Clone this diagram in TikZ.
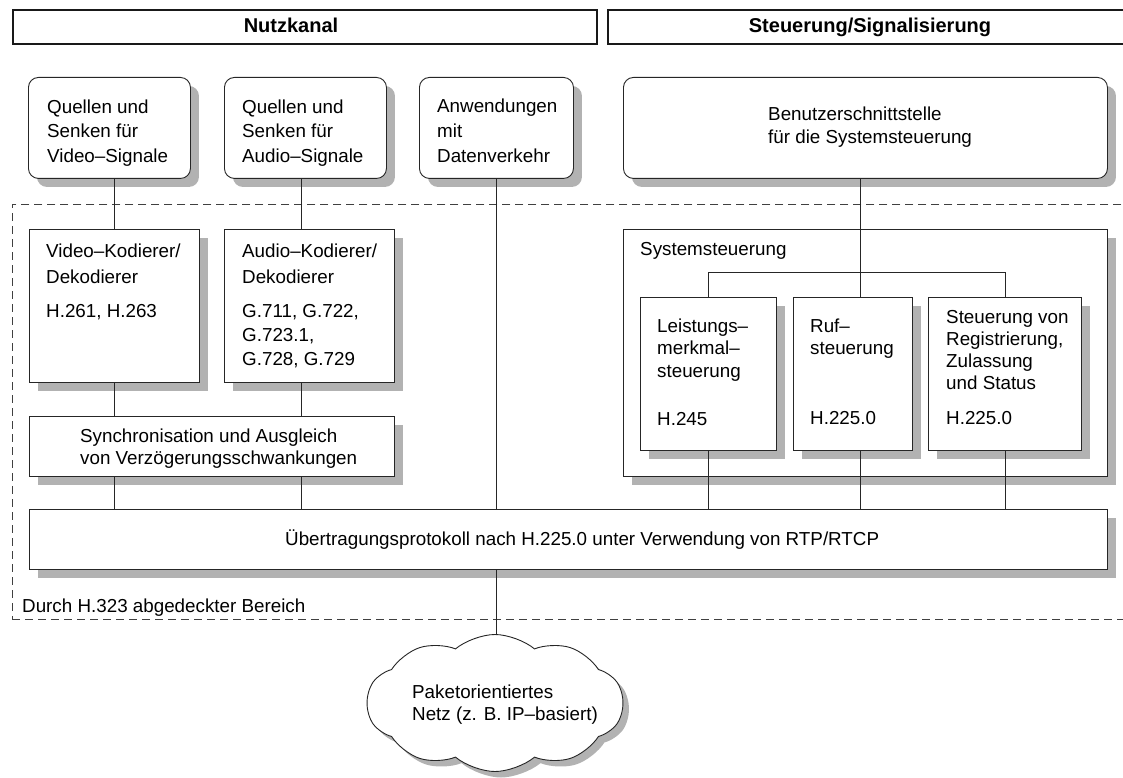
\documentclass[tikz,border=0pt]{standalone}
\usepackage{fontspec}
\setmainfont{Liberation Sans}
\usetikzlibrary{shadows,shapes.symbols}

\tikzset{
  box/.style={rectangle, draw=black!85, line width=0.9pt, fill=white, inner sep=0pt,
    anchor=north west,
    drop shadow={shadow xshift=8.5pt, shadow yshift=-8.5pt, fill=black!30, opacity=1}},
  rbox/.style={box, rounded corners=10pt},
  hdrbox/.style={rectangle, draw=black!90, line width=1.6pt, inner sep=0pt, anchor=north west},
  frame/.style={rectangle, draw=black!75, line width=0.8pt, dash pattern=on 8pt off 5pt,
    inner sep=0pt, anchor=north west},
  txt/.style={inner sep=0pt, align=left, anchor=north west,
    font=\fontsize{18.8}{22.5}\selectfont},
  htxt/.style={inner sep=0pt, anchor=base, font=\fontsize{20}{22}\selectfont\bfseries},
  wire/.style={draw=black!85, line width=0.8pt},
}

\begin{document}
\begin{tikzpicture}[x=1pt, y=-1pt]
\useasboundingbox (0,0) rectangle (1123,778);

% column headers
\node[hdrbox, minimum width=584, minimum height=34] (hl) at (12,9) {};
\node[hdrbox, minimum width=540, minimum height=34] (hr) at (607,9) {};
\node[htxt] (hlt) at (291,33) {Nutzkanal};
\node[htxt] (hrt) at (870,33) {Steuerung/Signalisierung};

% area covered by H.323
\node[frame, minimum width=1140, minimum height=415] (h323) at (12,204) {};
\node[txt, anchor=base west] (h323t) at (22,612.5) {Durch H.323 abgedeckter Bereich};

% terminals
\node[rbox, minimum width=162, minimum height=101] (q1) at (28,77) {};
\node[rbox, minimum width=162, minimum height=101] (q2) at (224,77) {};
\node[rbox, minimum width=154, minimum height=101] (anw) at (419,77) {};
\node[rbox, minimum width=484, minimum height=101] (ben) at (623,77) {};
\node[txt, font=\fontsize{18.8}{24.5}\selectfont] (q1t) at (47,99.5) {Quellen und\\Senken für\\Video–Signale};
\node[txt, font=\fontsize{18.8}{24.5}\selectfont] (q2t) at (242,99.5) {Quellen und\\Senken für\\Audio–Signale};
\node[txt, font=\fontsize{18.8}{25}\selectfont] (anwt) at (437,98.5) {Anwendungen\\mit\\Datenverkehr};
\node[txt, font=\fontsize{18.8}{23}\selectfont] (bent) at (768,106.5) {Benutzerschnittstelle\\für die Systemsteuerung};

% codecs
\node[box, minimum width=170, minimum height=153] (vk) at (29,229) {};
\node[box, minimum width=170, minimum height=153] (ak) at (224,229) {};
\node[txt, font=\fontsize{18.8}{26}\selectfont] (vkt) at (46,243.5) {Video–Kodierer/\\Dekodierer\\[8pt]H.261, H.263};
\node[txt, font=\fontsize{18.8}{26}\selectfont] (akt) at (242,243.5) {Audio–Kodierer/\\Dekodierer\\[8pt]G.711, G.722,\\[-2pt]G.723.1,\\[-2pt]G.728, G.729};

% synchronisation
\node[box, minimum width=365, minimum height=60] (sync) at (29,416) {};
\node[txt] (synct) at (80,428.5) {Synchronisation und Ausgleich\\von Verzögerungsschwankungen};

% system control
\node[box, minimum width=484, minimum height=247] (sys) at (623,229) {};
\node[txt, anchor=base west] (syst) at (640,255.5) {Systemsteuerung};
\node[box, minimum width=136, minimum height=153] (lm) at (640,297) {};
\node[box, minimum width=119, minimum height=153] (rs) at (793,297) {};
\node[box, minimum width=153, minimum height=153] (rz) at (928,297) {};
\node[txt] (lmt) at (657,318.5) {Leistungs–\\merkmal–\\steuerung\\[25.5pt]H.245};
\node[txt] (rst) at (810,318.5) {Ruf–\\steuerung\\[47.5pt]H.225.0};
\node[txt, font=\fontsize{18.8}{22}\selectfont] (rzt) at (946,310.5) {Steuerung von\\Registrierung,\\Zulassung\\und Status\\[13pt]H.225.0};

% transport
\node[box, minimum width=1078, minimum height=60] (ueb) at (29,509) {};
\node[txt, anchor=base west] (uebt) at (285,545.5) {Übertragungsprotokoll nach H.225.0 unter Verwendung von RTP/RTCP};

% network
\node[cloud, cloud puffs=10, cloud puff arc=80, aspect=1.87, draw=black!85, line width=0.9pt,
  fill=white, minimum width=256, minimum height=137, inner sep=0pt,
  drop shadow={shadow xshift=6pt, shadow yshift=-6pt, fill=black!30, opacity=1}] (net) at (495,703) {};
\node[txt, font=\fontsize{18.8}{22}\selectfont] (nett) at (412,684.5) {Paketorientiertes\\Netz (z. B. IP–basiert)};

% connector columns
\coordinate (cA) at (114,0);
\coordinate (cB) at (301,0);
\coordinate (cC) at (496,0);
\coordinate (cD) at (860,0);
\coordinate (cE) at (708,0);
\coordinate (cF) at (1005,0);
\coordinate (bar) at (0,272);

\draw[wire] (cA |- q1.south) -- (cA |- vk.north);
\draw[wire] (cB |- q2.south) -- (cB |- ak.north);
\draw[wire] (cA |- vk.south) -- (cA |- sync.north);
\draw[wire] (cB |- ak.south) -- (cB |- sync.north);
\draw[wire] (cA |- sync.south) -- (cA |- ueb.north);
\draw[wire] (cB |- sync.south) -- (cB |- ueb.north);
\draw[wire] (cC |- anw.south) -- (cC |- ueb.north);
\draw[wire] (cD |- ben.south) -- (cD |- rs.north);
\draw[wire] (cE |- lm.north) -- (cE |- bar) -- (cF |- bar) -- (cF |- rz.north);
\draw[wire] (cE |- lm.south) -- (cE |- ueb.north);
\draw[wire] (cD |- rs.south) -- (cD |- ueb.north);
\draw[wire] (cF |- rz.south) -- (cF |- ueb.north);
\draw[wire] (cC |- ueb.south) -- (cC |- net.north);
\end{tikzpicture}
\end{document}
